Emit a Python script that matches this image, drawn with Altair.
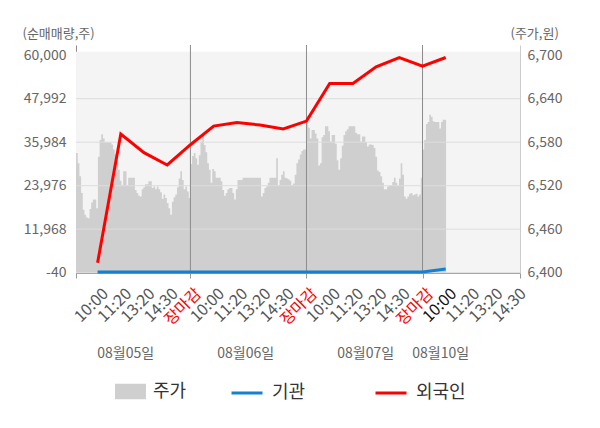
import json
import altair as alt
import pandas as pd

FONT = "Noto Sans CJK KR"

# ---------------- data ----------------
x_labels = ["10:00", "11:20", "13:20", "14:30", "장마감",
            "10:00", "11:20", "13:20", "14:30", "장마감",
            "10:00", "11:20", "13:20", "14:30", "장마감",
            "10:00", "11:20", "13:20", "14:30"]
day_names = ["08월05일", "08월06일", "08월07일", "08월10일"]
day_label_pos = [2.19, 7.36, 12.53, 15.76]
day_breaks = [5, 10, 15]

# net buying (shares) at slots 1..16
slots = list(range(1, 17))
foreign = [2700, 38240, 33090, 29700, 35290, 40440, 41410, 40720,
           39620, 41820, 52200, 52200, 56780, 59360, 56970, 59360]
institution = [150, 150, 150, 150, 150, 150, 150, 150,
               150, 150, 150, 150, 150, 150, 150, 950]

# stock price (won), intraday samples per day
price_day1 = [6544, 6565, 6551, 6533, 6510, 6487, 6480, 6476, 6475, 6488,
              6497, 6501, 6501, 6489, 6560, 6583, 6591, 6585, 6580, 6580,
              6580, 6580, 6577, 6570, 6563, 6555, 6542, 6527, 6521, 6540,
              6540, 6521, 6531, 6531, 6531, 6531, 6514, 6510, 6506, 6505,
              6515, 6518, 6522, 6522, 6526, 6526, 6517, 6519, 6515, 6519,
              6515, 6511, 6502, 6508, 6503, 6496, 6489, 6480, 6498, 6504,
              6508, 6518, 6530, 6540, 6528, 6515, 6519, 6512, 6503]
price_day2 = [6550, 6561, 6565, 6558, 6549, 6562, 6581, 6590, 6576, 6566,
              6551, 6542, 6524, 6543, 6540, 6531, 6531, 6531, 6526, 6514,
              6506, 6510, 6515, 6517, 6517, 6510, 6501, 6515, 6528, 6528,
              6528, 6531, 6531, 6531, 6531, 6531, 6531, 6531, 6531, 6531,
              6531, 6531, 6505, 6510, 6517, 6519, 6524, 6531, 6531, 6531,
              6531, 6558, 6521, 6528, 6535, 6540, 6531, 6530, 6529, 6527,
              6521, 6523, 6535, 6551, 6556, 6563, 6568, 6570, 6570]
price_day3 = [6616, 6600, 6585, 6597, 6597, 6592, 6585, 6548, 6551, 6587,
              6590, 6602, 6602, 6595, 6581, 6590, 6590, 6578, 6555, 6542,
              6558, 6575, 6590, 6595, 6598, 6602, 6602, 6602, 6602, 6593,
              6591, 6591, 6581, 6588, 6588, 6580, 6574, 6577, 6577, 6576,
              6572, 6560, 6541, 6539, 6533, 6524, 6515, 6515, 6519, 6520,
              6520, 6525, 6531, 6524, 6520, 6530, 6551, 6535, 6505, 6502,
              6505, 6509, 6510, 6507, 6508, 6509, 6505, 6508, 6531]
price_day4 = [6570, 6583, 6605, 6608, 6618, 6615, 6609, 6608, 6608, 6608,
              6599, 6608, 6611, 6611]
price_days = [price_day1, price_day2, price_day3, price_day4]

left_ticks = [-40, 11968, 23976, 35984, 47992, 60000]
right_ticks = [6400, 6460, 6520, 6580, 6640, 6700]

# ---------------- tables ----------------
SAMPLES_PER_DAY = len(price_day1)
step = 5.0 / SAMPLES_PER_DAY
area_rows = []
for d, vals in enumerate(price_days):
    for i, v in enumerate(vals):
        area_rows.append({"x": 5 * d + i * step, "price": v, "series": "주가"})
area_rows.append({"x": area_rows[-1]["x"] + step, "price": price_day4[-1], "series": "주가"})
area_df = pd.DataFrame(area_rows)

line_df = pd.DataFrame(
    [{"x": s, "v": v, "series": "기관"} for s, v in zip(slots, institution)]
    + [{"x": s, "v": v, "series": "외국인"} for s, v in zip(slots, foreign)]
)
grid_df = pd.DataFrame({"y": left_ticks[:-1]})
break_df = pd.DataFrame({"x": day_breaks})
bg_df = pd.DataFrame({"x0": [0.07], "x1": [19.2], "y0": [-40], "y1": [60950]})

X_DOM = [0.07, 19.2]
L_DOM = [-123, 62815]
R_DOM = [6399.6, 6714.1]

xs = alt.Scale(domain=X_DOM, nice=False, zero=False)
ls = alt.Scale(domain=L_DOM, nice=False, zero=False)
rs = alt.Scale(domain=R_DOM, nice=False, zero=False)

GRAY_TXT = "#666666"

# ---------------- layers ----------------
bg = alt.Chart(bg_df).mark_rect(color="#f4f4f4").encode(
    x=alt.X("x0:Q", scale=xs, axis=None), x2="x1:Q",
    y=alt.Y("y0:Q", scale=ls, axis=None), y2="y1:Q",
)

area = alt.Chart(area_df).mark_area(interpolate="step-after", clip=True, opacity=1).encode(
    x=alt.X("x:Q", scale=xs, axis=None),
    y=alt.Y("price:Q", scale=rs, axis=alt.Axis(
        orient="right", values=right_ticks, format=",.0f", ticks=False, grid=False,
        domainColor="#cccccc", labelColor=GRAY_TXT, labelFontSize=14, labelPadding=7,
        title="(주가,원)", titleAngle=0, titleAlign="left", titleBaseline="middle",
        titleX=-10, titleY=-12, titleFontSize=13, titleFontWeight="normal",
        titleColor=GRAY_TXT)),
    fill=alt.Fill("series:N", scale=alt.Scale(domain=["주가"], range=["#cfcfcf"]),
                  legend=alt.Legend(title=None, orient="none", legendX=39, legendY=331,
                                    symbolType="M-1,-0.5H1V0.5H-1Z", symbolSize=961,
                                    symbolStrokeWidth=0, labelFontSize=18, labelColor="#333333",
                                    labelOffset=7, padding=0)),
)

grid = alt.Chart(grid_df).mark_rule(color="#dddddd", strokeWidth=1).encode(
    y=alt.Y("y:Q", scale=ls, axis=None)
)

date_expr = "{}[indexof({}, datum.value)]".format(
    json.dumps(day_names, ensure_ascii=False), json.dumps(day_label_pos))
breaks = alt.Chart(break_df).mark_rule(color="#8c8c8c", strokeWidth=1).encode(
    x=alt.X("x:Q", scale=xs, title=None, axis=alt.Axis(
        orient="bottom", values=day_label_pos, labelExpr=date_expr, domain=False,
        ticks=False, grid=False, labelAngle=0, labelPadding=73, labelFontSize=14,
        labelColor=GRAY_TXT, labelOverlap=False, labelFlush=False)),
)

tick_vals = [X_DOM[0]] + list(range(1, 20)) + [X_DOM[1]]
x_expr = "datum.value < 0.5 || datum.value > 19.1 ? '' : {}[round(datum.value) - 1]".format(
    json.dumps(x_labels, ensure_ascii=False))
lines = alt.Chart(line_df).mark_line(strokeWidth=3).encode(
    x=alt.X("x:Q", scale=xs, title=None, axis=alt.Axis(
        orient="bottom", values=tick_vals, labelExpr=x_expr, grid=False,
        domainColor="#999999", tickColor="#999999", tickSize=5,
        tickOpacity={"condition": {"test": "datum.value % 5 == 0 || datum.value < 0.5 || datum.value > 19.1",
                                   "value": 1}, "value": 0},
        labelColor={"condition": [{"test": "datum.value % 5 == 0", "value": "#ff0000"},
                                  {"test": "datum.value == 16", "value": "#111111"}],
                    "value": "#555555"},
        labelAngle=-45, labelAlign="right", labelBaseline="top",
        labelFontSize=16, labelPadding=7, labelOffset=2, labelOverlap=False,
        labelFlush=False, labelBound=False)),
    y=alt.Y("v:Q", scale=ls, axis=alt.Axis(
        orient="left", values=left_ticks, format=",.0f",
        labelExpr="replace(datum.label, '\u2212', '-')",
        ticks=False, grid=False, domainColor="#8c8c8c", labelColor=GRAY_TXT,
        labelFontSize=14, labelPadding=10,
        title="(순매매량,주)", titleAngle=0, titleAlign="left", titleBaseline="middle",
        titleX=-54, titleY=-12, titleFontSize=13, titleFontWeight="normal",
        titleColor=GRAY_TXT)),
    stroke=alt.Stroke("series:N", scale=alt.Scale(domain=["기관", "외국인"],
                                                  range=["#1480d0", "#ff0000"]),
                      legend=alt.Legend(title=None, orient="none", legendX=154, legendY=331,
                                        direction="horizontal", symbolType="M-1,0H1",
                                        symbolSize=961, symbolStrokeWidth=3,
                                        labelFontSize=18, labelColor="#333333",
                                        labelOffset=8, columnPadding=63, padding=0)),
    order="x:Q",
)

chart = alt.layer(bg, area, grid, breaks, lines).resolve_scale(
    x="independent", y="independent", fill="independent", stroke="independent"
).properties(
    width=444, height=228,
    padding={"left": 68, "top": 37, "right": 72, "bottom": 140},
    autosize=alt.AutoSizeParams(type="none"),
).configure(
    font=FONT,
).configure_view(stroke=None).configure_axis(
    labelFont=FONT, titleFont=FONT
).configure_legend(labelFont=FONT)

chart.save("out.html", embed_options={"renderer": "svg", "actions": False})
